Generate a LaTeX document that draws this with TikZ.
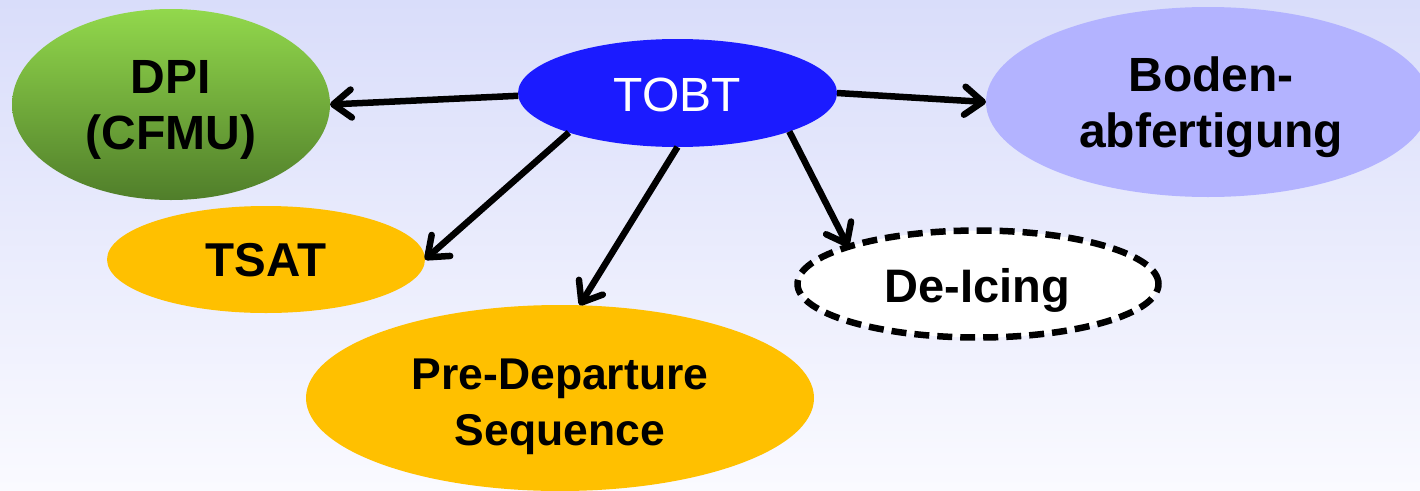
\documentclass[tikz,border=0pt]{standalone}
\usepackage{fontspec}
\setmainfont{Liberation Sans}
\usetikzlibrary{shapes.geometric,arrows.meta}
\definecolor{bgtop}{RGB}{217,221,250}
\definecolor{bgbot}{RGB}{250,250,255}
\definecolor{tobtblue}{RGB}{27,27,255}
\definecolor{bodenblue}{RGB}{179,179,255}
\definecolor{amber}{RGB}{255,192,0}
\definecolor{greentop}{RGB}{146,216,76}
\definecolor{greenbot}{RGB}{80,126,42}

\begin{document}
\begin{tikzpicture}[x=1pt,y=-1pt,
  blob/.style={ellipse, inner sep=0pt, outer sep=0pt},
  lbl/.style={align=center, inner sep=0pt},
  big/.style={font=\fontsize{#1}{56}\selectfont\bfseries},
  arr/.style={line width=6.5pt, -{Straight Barb[length=18pt,width=28pt,line join=round,line cap=round]}},
]
\clip (0,0) rectangle (1420,490);
% soft lavender backdrop
\shade[top color=bgtop, bottom color=bgbot] (0,0) rectangle (1420,490);

% ellipses
\node[blob, minimum width=318pt, minimum height=191pt, top color=greentop, bottom color=greenbot] (dpi) at (171,104.5) {};
\node[blob, fill=tobtblue, minimum width=319pt, minimum height=108pt] (tobt) at (677.5,93) {};
\node[blob, fill=bodenblue, minimum width=444pt, minimum height=190pt] (boden) at (1208,102) {};
\node[blob, fill=amber, minimum width=318pt, minimum height=107pt] (tsat) at (266,259.5) {};
\node[blob, fill=white, draw=black, line width=6.5pt, dash pattern=on 15pt off 8pt, minimum width=361pt, minimum height=107pt] (deicing) at (978,284) {};
\node[blob, fill=amber, minimum width=508pt, minimum height=186pt] (predep) at (560,398) {};

% labels
\node[lbl, big=48] (dpitxt) at (171,110) {DPI\\(CFMU)};
\node[lbl, font=\fontsize{48}{56}\selectfont, text=white] (tobttxt) at (677.5,94.5) {TOBT};
\node[lbl, big=48] (bodentxt) at (1211,107) {Boden-\\abfertigung};
\node[lbl, big=47.5] (tsattxt) at (266,260) {TSAT};
\node[lbl, big=47] (deicingtxt) at (977,290.5) {De-Icing};
\node[lbl, big=44.5] (predeptxt) at (560,407) {Pre-Departure\\Sequence};

% connectors
\draw[arr] (tobt.181) -- (dpi.0);
\draw[arr] (tobt.0) -- (boden.180);
\draw[arr] (tobt.200) -- (tsat.0);
\draw[arr] (tobt.270) -- (predep.78);
\draw[arr] (tobt.341) -- (deicing.164);
\end{tikzpicture}
\end{document}
